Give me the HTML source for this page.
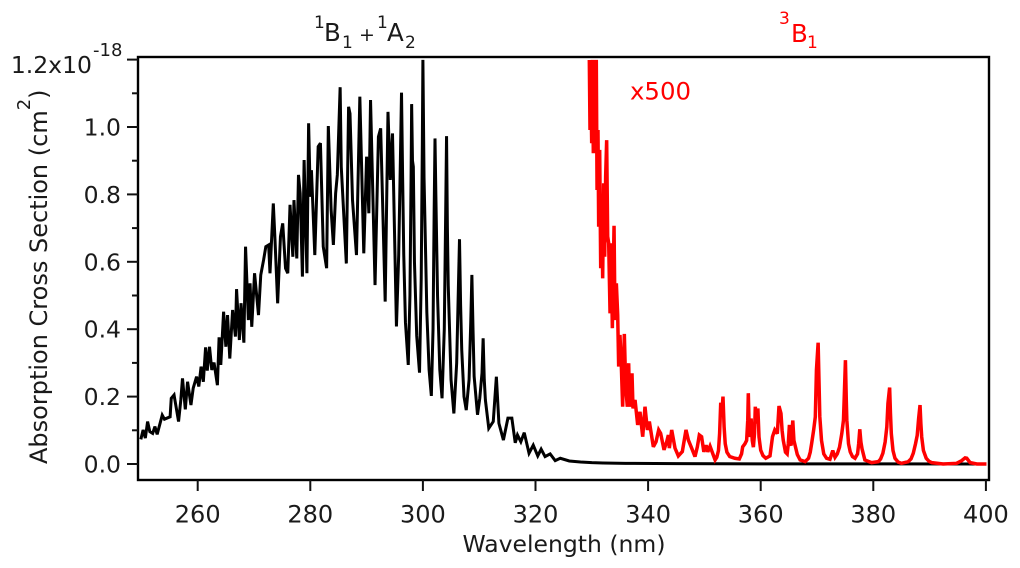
<!DOCTYPE html>
<html lang="en">
<head>
<meta charset="utf-8">
<title>Absorption Cross Section</title>
<style>
html,body{margin:0;padding:0;background:#fff;}
svg{display:block;filter:blur(0.35px);}
text{font-family:"DejaVu Sans","Liberation Sans",sans-serif;fill:#1a1a1a;}
.red{fill:#ff0000;}
</style>
</head>
<body>
<svg id="chart" width="1020" height="568" viewBox="0 0 1020 568" xmlns="http://www.w3.org/2000/svg">
  <defs><clipPath id="plot-clip"><rect x="138" y="59.5" width="851" height="421"></rect></clipPath></defs>
  <g id="series" clip-path="url(#plot-clip)"></g>
  <rect x="138" y="57" width="851" height="423" fill="none" stroke="#000" stroke-width="2.4"></rect>
  <g id="axes"></g>
  <text x="564" y="552" font-size="23" text-anchor="middle" textLength="203" lengthAdjust="spacingAndGlyphs">Wavelength (nm)</text>
  <text transform="translate(47,464) rotate(-90)" font-size="24">Absorption Cross Section (cm<tspan font-size="18" dy="-17">2</tspan><tspan dy="17">)</tspan></text>
  <g>
    <text x="314" y="28" font-size="17">1</text>
    <text x="324" y="41" font-size="24.5">B</text>
    <text x="342" y="48" font-size="17">1</text>
    <text x="359" y="41" font-size="19">+</text>
    <text x="377" y="28" font-size="17">1</text>
    <text x="387" y="41" font-size="24.5">A</text>
    <text x="405" y="48" font-size="17">2</text>
  </g>
  <g>
    <text class="red" x="779" y="24" font-size="17">3</text>
    <text class="red" x="791" y="42" font-size="24.5">B</text>
    <text class="red" x="807" y="48" font-size="17">1</text>
  </g>
  <text class="red" x="630" y="99.5" font-size="24" textLength="61" lengthAdjust="spacingAndGlyphs">x500</text>
</svg>
<script>
const xTickValues = [260, 280, 300, 320, 340, 360, 380, 400];
const yTickValues = [0, 0.2, 0.4, 0.6, 0.8, 1.0, 1.2];
const yTickLabels = ["0.0", "0.2", "0.4", "0.6", "0.8", "1.0", "1.2x10"];
const yMinorTickValues = [0.1, 0.3, 0.5, 0.7, 0.9, 1.1];

const blackWavelengths = [249.9,250.3,250.7,251.1,251.5,252.0,252.4,252.8,253.7,254.1,255.1,255.3,255.8,256.6,257.0,257.3,257.8,258.2,258.8,259.2,259.8,260.2,260.6,261.0,261.4,261.7,262.1,262.5,262.9,263.5,263.8,264.1,264.6,265.0,265.3,265.7,266.2,266.7,266.9,267.4,267.7,268.2,268.5,269.0,269.3,269.6,270.1,270.8,271.2,271.7,272.1,272.6,272.84,273.43,273.73,274.2,274.7,275.1,275.6,276,276.4,276.9,277.1,277.6,277.9,278.2,278.6,278.9,279.4,279.7,280,280.2,280.8,281.4,281.8,282.3,282.9,283.2,283.7,284.1,284.5,284.8,285.3,285.5,286.4,286.8,287.05,287.5,288.2,288.8,289.5,290,290.4,290.7,291.5,292.1,292.5,293.3,293.8,294.2,294.6,295.3,295.7,296.0,296.2,296.4,296.6,296.9,297.4,297.7,297.9,298,298.15,298.3,298.5,298.9,299.4,299.7,299.9,300,300.2,300.7,301.1,301.5,301.8,302.0,302.15,302.3,302.6,303,303.4,303.8,304.05,304.2,304.35,304.5,305,305.5,306,306.3,306.5,306.7,306.9,307.3,307.7,308.2,308.5,308.7,308.9,309.1,309.7,310.1,310.5,310.7,310.9,311.1,311.7,312.5,313.05,313.5,314.3,315.1,315.8,316.4,316.8,317.4,318,318.85,319.6,320.4,321,321.7,322.6,323.5,324.4,326,328,330,332,336,345,360,400];
const blackValues = [0.073,0.101,0.077,0.126,0.096,0.091,0.111,0.088,0.145,0.133,0.14,0.195,0.205,0.126,0.19,0.254,0.162,0.244,0.175,0.225,0.259,0.23,0.289,0.244,0.346,0.277,0.348,0.279,0.301,0.234,0.376,0.294,0.452,0.348,0.442,0.313,0.457,0.378,0.519,0.368,0.477,0.36,0.645,0.427,0.536,0.407,0.566,0.442,0.561,0.605,0.645,0.65,0.566,0.773,0.665,0.477,0.675,0.714,0.581,0.566,0.769,0.615,0.783,0.61,0.858,0.803,0.556,0.902,0.566,1.011,0.793,0.872,0.62,0.942,0.952,0.645,0.581,1.003,0.754,0.65,0.803,0.858,1.118,0.882,0.595,1.06,1.04,0.783,0.62,1.09,0.625,0.912,0.744,1.08,0.531,0.971,0.996,0.482,1.045,0.843,0.981,0.408,0.62,0.9,1.102,0.85,0.62,0.42,0.294,0.5,0.85,1.068,0.9,0.882,0.6,0.38,0.271,0.55,0.95,1.199,0.85,0.45,0.28,0.202,0.4,0.75,0.966,0.8,0.5,0.28,0.195,0.4,0.75,0.973,0.7,0.53,0.25,0.15,0.3,0.52,0.667,0.47,0.338,0.2,0.16,0.25,0.42,0.561,0.4,0.26,0.146,0.195,0.27,0.373,0.25,0.19,0.106,0.126,0.259,0.121,0.071,0.136,0.136,0.063,0.086,0.066,0.093,0.032,0.056,0.024,0.044,0.022,0.03,0.01,0.017,0.009,0.006,0.004,0.003,0.002,0.001,0.0005,0];

const redWavelengths = [329.56,329.68,329.8,329.98,330.1,330.27,330.45,330.63,330.8,330.93,331.1,331.22,331.4,331.58,331.75,331.93,332.11,332.29,332.46,332.64,332.82,333,333.24,333.41,333.65,333.83,333.95,334.12,334.36,334.6,334.77,335,335.25,335.48,335.78,336.02,336.31,336.55,336.73,337.14,337.32,337.68,338.15,338.56,339.04,339.45,339.87,340.22,340.93,341.41,341.88,342.23,342.83,343.3,343.6,343.77,344.19,344.78,345.37,346.08,346.73,347.15,347.74,348.33,348.75,349.1,349.5,349.9,350.3,350.6,351,351.5,351.9,352.2,352.5,352.7,352.9,353.1,353.3,353.5,353.7,354,354.5,355.4,356.2,356.6,356.8,357.2,357.5,357.7,357.8,357.95,358.1,358.3,358.5,358.7,358.9,359.04,359.25,359.5,359.7,360,360.4,360.9,361.65,362.1,362.5,362.95,363.25,363.6,363.8,364,364.4,364.7,364.9,365.1,365.25,365.4,365.7,365.9,366.1,366.5,367,367.9,368.5,368.8,369.05,369.4,369.7,369.9,370.2,370.35,370.5,370.8,371.2,371.7,372.3,372.8,373.2,373.6,374,374.4,374.7,374.85,375.05,375.2,375.3,375.6,375.9,376.3,376.75,377.2,377.4,377.6,377.8,378,378.5,379.7,380.9,381.3,381.7,382.1,382.4,382.6,382.9,383.05,383.2,383.5,383.85,384.4,385,386.2,386.7,387.1,387.5,387.8,388.05,388.3,388.45,388.6,388.9,389.4,389.9,390.4,392.4,394.8,395.7,396.3,396.6,397.2,398.4,400.1];
const redValues = [1.199,0.991,1.17,0.952,1.199,0.922,1.199,1.03,1.199,0.813,0.991,0.704,0.932,0.581,0.793,0.551,0.833,0.615,0.853,0.961,0.675,0.655,0.447,0.655,0.403,0.586,0.707,0.427,0.536,0.442,0.289,0.383,0.289,0.17,0.386,0.23,0.17,0.299,0.17,0.269,0.165,0.19,0.116,0.155,0.081,0.17,0.101,0.126,0.051,0.066,0.101,0.091,0.042,0.066,0.086,0.047,0.101,0.047,0.024,0.037,0.101,0.071,0.047,0.022,0.051,0.086,0.081,0.036,0.056,0.036,0.053,0.03,0.012,0.02,0.04,0.09,0.182,0.15,0.2,0.11,0.06,0.035,0.022,0.017,0.015,0.03,0.051,0.06,0.07,0.13,0.21,0.11,0.08,0.135,0.07,0.05,0.09,0.17,0.12,0.165,0.08,0.041,0.025,0.017,0.024,0.081,0.101,0.09,0.172,0.15,0.1,0.071,0.035,0.03,0.06,0.116,0.06,0.055,0.129,0.07,0.056,0.028,0.012,0.007,0.017,0.035,0.061,0.1,0.14,0.279,0.36,0.25,0.14,0.07,0.03,0.017,0.014,0.04,0.02,0.03,0.05,0.09,0.13,0.205,0.308,0.19,0.13,0.06,0.036,0.022,0.017,0.03,0.06,0.103,0.065,0.045,0.012,0.004,0.007,0.015,0.032,0.065,0.11,0.18,0.227,0.15,0.09,0.04,0.017,0.006,0.002,0.007,0.015,0.032,0.06,0.085,0.135,0.175,0.12,0.08,0.04,0.017,0.008,0.004,0,0.002,0.01,0.018,0.017,0.004,0,0];

const SVG_NS = "http://www.w3.org/2000/svg";
function xScale(w) { return 197.7 + (w - 260) * 5.63; }
function yScale(v) { return 464 - v * 337; }
function linePoints(xs, ys) {
  return xs.map(function (w, i) { return xScale(w).toFixed(2) + "," + yScale(ys[i]).toFixed(2); }).join(" ");
}

const seriesLayer = document.getElementById("series");
const axesLayer = document.getElementById("axes");

const blackLine = document.createElementNS(SVG_NS, "polyline");


blackLine.setAttribute("points", linePoints(blackWavelengths, blackValues));
blackLine.setAttribute("fill", "none");
blackLine.setAttribute("stroke", "#000");
blackLine.setAttribute("stroke-width", "3");
blackLine.setAttribute("stroke-linejoin", "miter");
blackLine.setAttribute("stroke-miterlimit", "3");
seriesLayer.appendChild(blackLine);

const redLine = document.createElementNS(SVG_NS, "polyline");


redLine.setAttribute("points", linePoints(redWavelengths, redValues));
redLine.setAttribute("fill", "none");
redLine.setAttribute("stroke", "#ff0000");
redLine.setAttribute("stroke-width", "3.5");
redLine.setAttribute("stroke-linejoin", "miter");
redLine.setAttribute("stroke-miterlimit", "3");
seriesLayer.appendChild(redLine);

function addTick(x1, y1, x2, y2, name) {
  const tick = document.createElementNS(SVG_NS, "line");
  
  
  tick.setAttribute("x1", x1);
  tick.setAttribute("y1", y1);
  tick.setAttribute("x2", x2);
  tick.setAttribute("y2", y2);
  tick.setAttribute("stroke", "#111");
  tick.setAttribute("stroke-width", "2");
  axesLayer.appendChild(tick);
}
function addLabel(x, y, size, anchor, content, name) {
  const label = document.createElementNS(SVG_NS, "text");
  
  
  label.setAttribute("x", x);
  label.setAttribute("y", y);
  label.setAttribute("font-size", size);
  label.setAttribute("text-anchor", anchor);
  label.textContent = content;
  axesLayer.appendChild(label);
}

xTickValues.forEach(function (w) {
  const x = xScale(w);
  addTick(x, 480, x, 491, "x-tick-" + w);
  addLabel(x, 522.5, 24, "middle", String(w), "x-tick-label-" + w);
});
yTickValues.forEach(function (v, i) {
  const y = yScale(v);
  addTick(127, y, 138, y, "y-tick-" + i);
  const isTop = i === yTickValues.length - 1;
  addLabel(isTop ? 92 : 121, y + 8.5 + (isTop ? 5 : 0), 23.5, "end", yTickLabels[i], "y-tick-label-" + i);
});
yMinorTickValues.forEach(function (v, i) {
  const y = yScale(v);
  addTick(132, y, 138, y, "y-minor-tick-" + i);
});
addLabel(93, 56, 18, "start", "-18", "y-axis-exponent");
</script>
</body>
</html>
